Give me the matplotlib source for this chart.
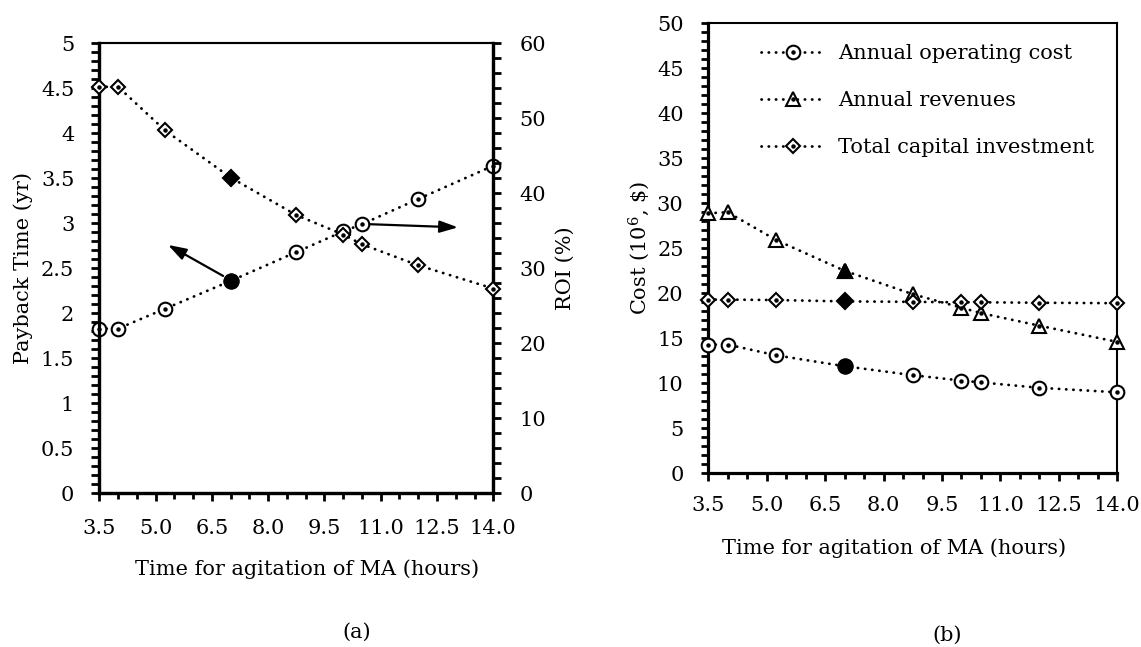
import matplotlib
matplotlib.use("Agg")
import matplotlib.pyplot as plt
from matplotlib.ticker import MultipleLocator, FormatStrFormatter, FuncFormatter
from matplotlib.legend_handler import HandlerTuple

# ---------------- data ----------------
time_h = [3.5, 4.0, 5.25, 7.0, 8.75, 10.0, 10.5, 12.0, 14.0]
payback_yr = [1.83, 1.83, 2.05, 2.36, 2.68, 2.91, 2.99, 3.27, 3.64]
roi_pct = [54.2, 54.2, 48.4, 42.1, 37.1, 34.5, 33.2, 30.4, 27.3]
operating_cost = [14.3, 14.3, 13.1, 11.9, 10.9, 10.3, 10.1, 9.5, 9.0]
revenues = [28.9, 29.0, 25.9, 22.5, 19.9, 18.4, 17.8, 16.4, 14.6]
capital_investment = [19.3, 19.3, 19.25, 19.1, 19.05, 19.0, 19.0, 18.95, 18.9]
selected_idx = 3
legend_labels = ["Annual operating cost", "Annual revenues", "Total capital investment"]
xticks = [3.5, 5.0, 6.5, 8.0, 9.5, 11.0, 12.5, 14.0]

plt.rcParams['font.family'] = ['DejaVu Serif']
plt.rcParams['mathtext.fontset'] = 'dejavuserif'
FS = 15

W, H = 1141, 647
fig = plt.figure(figsize=(W / 100, H / 100), dpi=100)

def px_axes(x0, y0, x1, y1):
    return fig.add_axes([x0 / W, 1 - y1 / H, (x1 - x0) / W, (y1 - y0) / H])

DOT = (0, (0.1, 2.5))

def series(ax, x, y, marker, ms):
    ln, = ax.plot(x, y, ls=DOT, lw=2.0, color='k', dash_capstyle='round',
                  marker=marker, ms=ms, mfc='white', mec='k', mew=1.5,
                  clip_on=False, zorder=3)
    dt, = ax.plot(x, y, ls='none', marker='o', ms=2.2, color='k',
                  clip_on=False, zorder=4)
    ax.plot([x[selected_idx]], [y[selected_idx]], ls='none', marker=marker,
            ms=ms * 1.05, mfc='k', mec='k', mew=1.5, clip_on=False, zorder=5)
    return ln, dt

# ---------------- panel (a) ----------------
ax1 = px_axes(99.3, 43.3, 493.3, 493.3)
ax2 = ax1.twinx()
ax1.set_xlim(3.5, 14.0)
ax1.set_ylim(0, 5)
ax2.set_ylim(0, 60)

series(ax1, time_h, payback_yr, 'o', 9.8)
series(ax2, time_h, roi_pct, 'D', 7.3)

ax1.set_xticks(xticks)
ax1.xaxis.set_major_formatter(FormatStrFormatter('%.1f'))
ax1.xaxis.set_minor_locator(MultipleLocator(0.5))
ax1.yaxis.set_major_locator(MultipleLocator(0.5))
ax1.yaxis.set_minor_locator(MultipleLocator(0.1))
ax1.yaxis.set_major_formatter(FuncFormatter(lambda v, p: f"{v:g}"))
ax2.yaxis.set_major_locator(MultipleLocator(10))
ax2.yaxis.set_minor_locator(MultipleLocator(2))
ax1.tick_params(axis='x', which='major', direction='out', length=6, width=2,
                pad=12.5, labelsize=FS, top=False)
ax1.tick_params(axis='x', which='minor', direction='out', length=4.3, width=2, top=False)
ax1.tick_params(axis='y', which='both', direction='out', length=5.5, width=2,
                pad=12.5, labelsize=FS, right=False)
ax2.tick_params(axis='y', which='both', direction='out', length=5.5, width=2,
                pad=13.5, labelsize=FS, left=False)
for a in (ax1, ax2):
    for s in ('left', 'bottom', 'right'):
        a.spines[s].set_linewidth(2.3)
    a.spines['top'].set_linewidth(1.5)

ARROW = dict(arrowstyle='-|>,head_length=0.55,head_width=0.18',
             lw=1.6, color='k', mutation_scale=20, shrinkA=0, shrinkB=0)
ax1.annotate('', xy=(5.33, 2.76), xytext=(6.80, 2.415), arrowprops=ARROW, zorder=6)
ax1.annotate('', xy=(13.06, 2.955), xytext=(10.70, 2.99), arrowprops=ARROW, zorder=6)

fig.text(23 / W, 1 - 268 / H, "Payback Time (yr)", rotation=90, ha='center',
         va='center', fontsize=FS)
fig.text(565 / W, 1 - 268 / H, "ROI (%)", rotation=90, ha='center',
         va='center', fontsize=FS)
fig.text(307 / W, 1 - 575 / H, "Time for agitation of MA (hours)", ha='center',
         va='baseline', fontsize=FS)
fig.text(357 / W, 1 - 638 / H, "(a)", ha='center', va='baseline', fontsize=FS)

# ---------------- panel (b) ----------------
ax3 = px_axes(708.3, 23.3, 1117.3, 473.3)
ax3.set_xlim(3.5, 14.0)
ax3.set_ylim(0, 50)
h1 = series(ax3, time_h, operating_cost, 'o', 9.8)
h2 = series(ax3, time_h, revenues, '^', 9.8)
h3 = series(ax3, time_h, capital_investment, 'D', 7.3)

ax3.set_xticks(xticks)
ax3.xaxis.set_major_formatter(FormatStrFormatter('%.1f'))
ax3.xaxis.set_minor_locator(MultipleLocator(0.5))
ax3.yaxis.set_major_locator(MultipleLocator(5))
ax3.yaxis.set_minor_locator(MultipleLocator(1))
ax3.yaxis.set_major_formatter(FormatStrFormatter('%d'))
ax3.tick_params(axis='x', which='major', direction='out', length=5.5, width=2,
                pad=11, labelsize=FS, top=False)
ax3.tick_params(axis='x', which='minor', direction='out', length=4, width=2, top=False)
ax3.tick_params(axis='y', which='both', direction='out', length=5.3, width=2,
                pad=12.5, labelsize=FS, right=False)
for s in ('left', 'bottom'):
    ax3.spines[s].set_linewidth(2.3)
for s in ('top', 'right'):
    ax3.spines[s].set_linewidth(1.5)

leg = ax3.legend([h1, h2, h3], legend_labels,
                 handler_map={tuple: HandlerTuple(ndivide=1)},
                 loc='upper left',
                 bbox_to_anchor=((761 - 708.3) / 409, 1 - (44 - 23.3) / 450),
                 frameon=False, borderpad=0, borderaxespad=0, fontsize=FS,
                 handlelength=3.1, handletextpad=0.6, labelspacing=1.35)

fig.text(639 / W, 1 - 248 / H, r"Cost (10$^{6}$, \$)", rotation=90, ha='center',
         va='center', fontsize=FS)
fig.text(894 / W, 1 - 554 / H, "Time for agitation of MA (hours)", ha='center',
         va='baseline', fontsize=FS)
fig.text(947 / W, 1 - 641 / H, "(b)", ha='center', va='baseline', fontsize=FS)

fig.savefig("out.png", dpi=100)
